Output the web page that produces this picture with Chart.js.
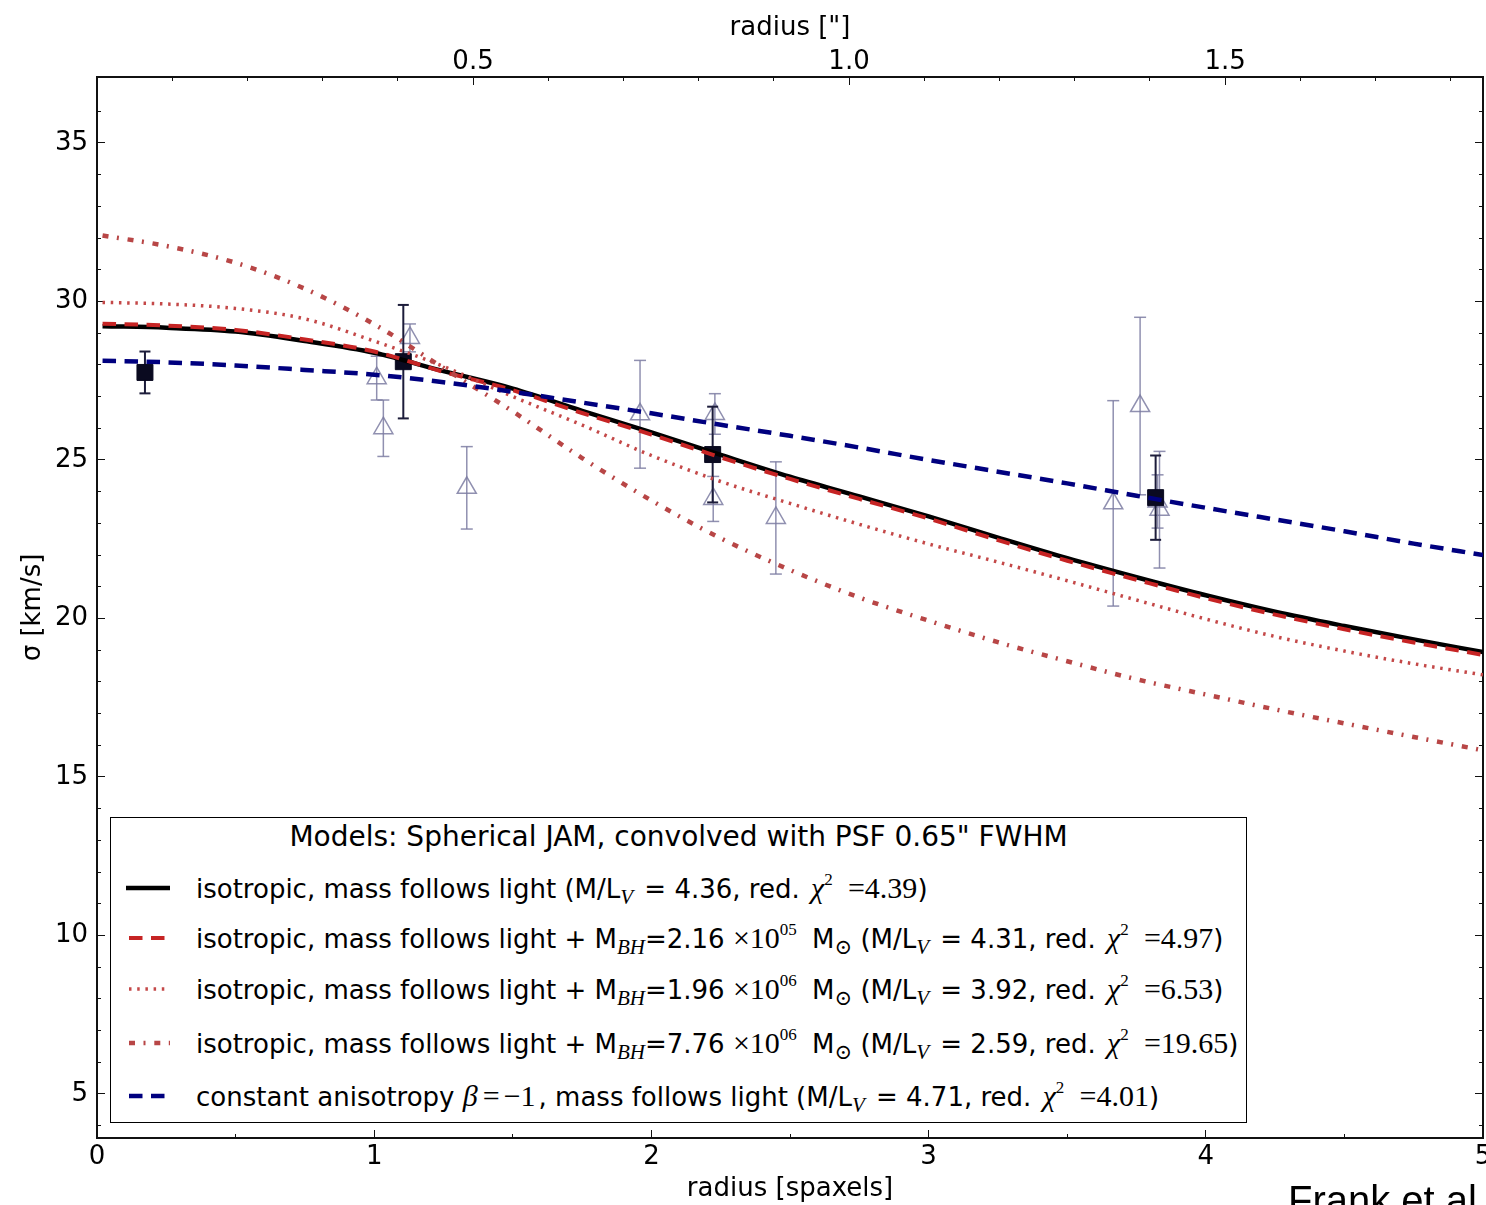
<!DOCTYPE html>
<html lang="en">
<head>
<meta charset="utf-8">
<title>Velocity dispersion profile with spherical JAM models</title>
<script src="https://cdn.jsdelivr.net/npm/chart.js@4.4.1/dist/chart.umd.min.js"></script>
<style>
  html, body { margin: 0; padding: 0; background: #fff; overflow: hidden; }
  #wrap { position: relative; width: 1486px; height: 1205px; overflow: hidden; background: #fff; }
  #plot { position: absolute; left: 0; top: 0; }
  .legend-box { position: absolute; left: 110px; top: 817px; width: 1137px; height: 306px;
                box-sizing: border-box; border: 1.5px solid #000; background: #fff; }
  .legend-title, .legend-row { position: absolute; white-space: nowrap; font-family: "DejaVu Sans";
                font-size: 26px; line-height: 30px; height: 30px; color: #000; }
  .legend-title { left: 110px; width: 1137px; text-align: center; font-size: 28px; }
  .legend-row { left: 196px; }
  .handle { position: absolute; left: 126px; }
  .m { font-family: "Liberation Serif", "DejaVu Serif", serif; font-size: 30px; }
  .i { font-style: italic; }
  .legend-row sub, .legend-row sup { line-height: 0; }
  .legend-row sub { font-size: 21px; vertical-align: -6px; }
  .legend-row sup { font-size: 17px; vertical-align: 13px; }
  .sub-v { margin-right: 3px; }
  .chi { margin-left: 3px; }
  .gap-l { margin-left: 7px; }
  .rel { margin: 0 4px 0 5px; }
  .neg { margin-right: 3px; }
  .credit { position: absolute; left: 1288px; top: 1180px; font-family: "Liberation Sans";
            font-size: 40px; line-height: 40px; white-space: nowrap; color: #000; }
</style>
</head>
<body>
<div id="wrap">
  <canvas id="plot" width="1486" height="1205" style="width:1486px;height:1205px"></canvas>
  <div class="legend-box"></div>
  <div id="legend"></div>
  <div class="credit">Frank et al</div>
</div>
<script>
// ---- model curves: sigma [km/s] against radius [spaxels] ----
const radius   = [0.02, 0.25, 0.5, 0.75, 1.0, 1.25, 1.5, 1.75, 2.0, 2.25, 2.5, 2.75, 3.0, 3.25, 3.5, 3.75, 4.0, 4.25, 4.5, 4.75, 5.0];
const sigIso   = [29.22, 29.17, 29.05, 28.75, 28.38, 27.80, 27.25, 26.55, 25.87, 25.16, 24.47, 23.85, 23.22, 22.55, 21.90, 21.30, 20.73, 20.21, 19.76, 19.34, 18.94];
const sigBH1   = [29.30, 29.24, 29.10, 28.80, 28.42, 27.78, 27.20, 26.48, 25.80, 25.08, 24.40, 23.77, 23.15, 22.47, 21.82, 21.22, 20.64, 20.12, 19.66, 19.24, 18.85];
const sigBH2   = [29.97, 29.92, 29.78, 29.45, 28.75, 27.95, 27.00, 26.10, 25.14, 24.32, 23.63, 22.97, 22.35, 21.78, 21.19, 20.58, 19.98, 19.43, 18.97, 18.57, 18.22];
const sigBH3   = [32.08, 31.75, 31.22, 30.40, 29.28, 27.90, 26.53, 25.06, 23.72, 22.53, 21.53, 20.66, 19.93, 19.25, 18.65, 18.08, 17.60, 17.13, 16.69, 16.26, 15.84];
const sigAniso = [28.13, 28.08, 27.98, 27.84, 27.69, 27.45, 27.15, 26.81, 26.47, 26.11, 25.76, 25.39, 25.00, 24.63, 24.26, 23.87, 23.49, 23.12, 22.75, 22.36, 22.00];

// ---- binned measurements (filled squares) ----
const binX   = [0.173, 1.105, 2.221, 3.819];
const binY   = [27.76, 28.10, 25.17, 23.81];
const binErr = [0.66, 1.79, 1.51, 1.33];

// ---- individual measurements (open triangles) ----
const ptX   = [1.009, 1.033, 1.129, 1.334, 1.959, 2.229, 2.223, 2.449, 3.666, 3.763, 3.833, 3.826];
const ptY   = [27.58, 26.00, 28.85, 24.12, 26.44, 26.45, 23.77, 23.17, 23.63, 26.70, 23.43, 23.69];
const ptErr = [0.69, 0.89, 0.44, 1.30, 1.70, 0.64, 0.71, 1.77, 3.24, 2.80, 1.84, 0.84];

// ---- axes ----
const xTickVals   = [0, 0.5, 1, 1.5, 2, 2.5, 3, 3.5, 4, 4.5, 5];
const xTickMajor  = [0, 1, 2, 3, 4, 5];
const arcTickVals = [0.1, 0.2, 0.3, 0.4, 0.5, 0.6, 0.7, 0.8, 0.9, 1.0, 1.1, 1.2, 1.3, 1.4, 1.5, 1.6, 1.7, 1.8];
const arcTickMajor = [0.5, 1.0, 1.5];
const yTickVals   = [4, 5, 6, 7, 8, 9, 10, 11, 12, 13, 14, 15, 16, 17, 18, 19, 20, 21, 22, 23, 24, 25, 26, 27, 28, 29, 30, 31, 32, 33, 34, 35, 36];
const yTickMajor  = [5, 10, 15, 20, 25, 30, 35];
const arcsecPerSpaxel = 0.3686;

// ---- legend text pieces ----
const mlText  = ['4.36', '4.31', '3.92', '2.59', '4.71'];
const chiText = ['4.39', '4.97', '6.53', '19.65', '4.01'];
const bhMant  = ['2.16', '1.96', '7.76'];
const bhExp   = ['05', '06', '06'];

const SANS = 'DejaVu Sans';
const labelFont = { family: SANS, size: 26 };
const AXIS = '#111';

const xy = (xs, ys) => xs.map((x, i) => ({ x: x, y: ys[i] }));
const inList = (list, v) => list.some(m => Math.abs(m - v) < 1e-9);

// Inward tick marks; minor ones are cut short with a dash pattern.
// On top/left axes the tick path starts inside the plot, so the visible part is shifted.
function gridFor(major, startsInside) {
  return {
    drawOnChartArea: false, drawTicks: true, tickLength: -8, tickWidth: 1, tickColor: AXIS,
    tickBorderDash: c => (c.tick && inList(major, c.tick.value)) ? [] : (startsInside ? [0, 4, 5, 200] : [5, 200])
  };
}
const border = { display: true, color: AXIS, width: 2 };

const modelStyles = [
  { data: sigIso,   color: '#000000', width: 4.5, dash: [],                 order: 4 },
  { data: sigBH1,   color: '#c62424', width: 4,   dash: [13.5, 8.5],        order: 3 },
  { data: sigBH2,   color: '#c44848', width: 3.5, dash: [2.5, 5.7],         order: 2 },
  { data: sigBH3,   color: '#b84646', width: 4.5, dash: [6, 8.5, 2, 8.8],   order: 1 },
  { data: sigAniso, color: '#00007f', width: 4.5, dash: [13.5, 8.5],        order: 0 }
];

const datasets = modelStyles.map(s => ({
  data: xy(radius, s.data), borderColor: s.color, borderWidth: s.width, borderDash: s.dash,
  pointRadius: 0, fill: false, cubicInterpolationMode: 'monotone', order: s.order
}));

datasets.push({
  data: xy(binX, binY), showLine: false, pointStyle: 'rect', pointRadius: 11.3,
  pointBackgroundColor: '#0a0a20', pointBorderColor: '#0a0a20', pointBorderWidth: 1, order: 5
});
datasets.push({
  data: xy(ptX, ptY), showLine: false, pointStyle: 'triangle', pointRadius: 11,
  pointBackgroundColor: 'rgba(0,0,0,0)', pointBorderColor: 'rgba(125,125,162,0.85)', pointBorderWidth: 1.5, order: 7
});

function errorBar(x, y, e, color, width, cap, order) {
  return {
    data: [{ x: x, y: y - e }, { x: x, y: y + e }], borderColor: color, borderWidth: width,
    pointStyle: 'line', pointRadius: cap, pointBorderColor: color, pointBorderWidth: width, order: order
  };
}
binX.forEach((x, i) => datasets.push(errorBar(x, binY[i], binErr[i], '#1c1c3a', 2, 5.5, 6)));
ptX.forEach((x, i) => datasets.push(errorBar(x, ptY[i], ptErr[i], 'rgba(125,125,162,0.85)', 1.5, 6, 8)));

new Chart(document.getElementById('plot'), {
  type: 'line',
  data: { datasets: datasets },
  options: {
    responsive: false, animation: false, events: [],
    layout: { padding: 0, autoPadding: false },
    plugins: { legend: { display: false }, tooltip: { enabled: false } },
    scales: {
      x: {
        type: 'linear', position: 'bottom', min: 0, max: 5,
        afterBuildTicks: s => { s.ticks = xTickVals.map(v => ({ value: v })); },
        afterFit: s => { s.height = 67; s.paddingLeft = 0; s.paddingRight = 0; },
        ticks: { autoSkip: false, maxRotation: 0, minRotation: 0, padding: 11.4, color: '#000', font: labelFont,
                 callback: v => inList(xTickMajor, v) ? String(v) : '' },
        grid: gridFor(xTickMajor, false), border: border,
        title: { display: true, text: 'radius [spaxels]', color: '#000', font: labelFont, padding: { top: 0, bottom: 0 } }
      },
      x2: {
        type: 'linear', position: 'top', min: 0, max: 5 * arcsecPerSpaxel,
        afterBuildTicks: s => { s.ticks = arcTickVals.map(v => ({ value: v })); },
        afterFit: s => { s.height = 77; s.paddingLeft = 0; s.paddingRight = 0; },
        ticks: { autoSkip: false, maxRotation: 0, minRotation: 0, padding: 7.4, color: '#000', font: labelFont,
                 callback: v => inList(arcTickMajor, v) ? v.toFixed(1) : '' },
        grid: gridFor(arcTickMajor, true), border: border,
        title: { display: true, text: 'radius ["]', color: '#000', font: labelFont, padding: { top: 12.4, bottom: 0 } }
      },
      y: {
        type: 'linear', position: 'left', min: 3.61, max: 37.08,
        afterBuildTicks: s => { s.ticks = yTickVals.map(v => ({ value: v })); },
        afterFit: s => { s.width = 97; s.paddingTop = 0; s.paddingBottom = 0; },
        ticks: { autoSkip: false, padding: 17, color: '#000', font: labelFont,
                 callback: v => inList(yTickMajor, v) ? String(v) : '' },
        grid: gridFor(yTickMajor, true), border: border,
        title: { display: true, text: 'σ [km/s]', color: '#000', font: labelFont, padding: { top: 17.4, bottom: 0 } }
      },
      y2: {
        type: 'linear', position: 'right', min: 3.61, max: 37.08,
        afterBuildTicks: s => { s.ticks = yTickVals.map(v => ({ value: v })); },
        afterFit: s => { s.width = 3; s.paddingTop = 0; s.paddingBottom = 0; },
        ticks: { display: false },
        grid: gridFor(yTickMajor, false), border: border
      }
    }
  }
});

// ---- legend ----
const subV = '<sub class="m i sub-v">V</sub>';
const chiSq = '<span class="m i chi">χ</span><sup class="m">2</sup>';
const fitPart = i => `(M/L${subV} = ${mlText[i]}, red. ${chiSq} <span class="m gap-l">=${chiText[i]}</span>)`;
const bhPart = k => ` + M<sub class="m i">BH</sub>=${bhMant[k]} <span class="m">×10</span><sup class="m">${bhExp[k]}</sup> <span class="gap-l">M</span><sub class="m">⊙</sub> `;

const legendRows = [
  { model: 0, top: 873,  html: 'isotropic, mass follows light ' + fitPart(0) },
  { model: 1, top: 923,  html: 'isotropic, mass follows light' + bhPart(0) + fitPart(1) },
  { model: 2, top: 974,  html: 'isotropic, mass follows light' + bhPart(1) + fitPart(2) },
  { model: 3, top: 1028, html: 'isotropic, mass follows light' + bhPart(2) + fitPart(3) },
  { model: 4, top: 1081, html: 'constant anisotropy <span class="m i">β</span><span class="m rel">=</span><span class="m neg">−1</span>, mass follows light ' + fitPart(4) }
];

let legendHtml = '<div class="legend-title" style="top:822px">Models: Spherical JAM, convolved with PSF 0.65" FWHM</div>';
legendRows.forEach(r => {
  const s = modelStyles[r.model];
  const hy = r.top + 15;
  const dashAttr = s.dash.length ? ` stroke-dasharray="${s.dash.join(' ')}" stroke-dashoffset="-3"` : '';
  legendHtml += `<svg class="handle" style="top:${hy - 8}px" width="44" height="16">` +
    `<line x1="0" y1="8" x2="44" y2="8" stroke="${s.color}" stroke-width="${s.width}"${dashAttr}/></svg>`;
  legendHtml += `<div class="legend-row" style="top:${r.top}px">${r.html}</div>`;
});
document.getElementById('legend').innerHTML = legendHtml;
</script>
</body>
</html>
